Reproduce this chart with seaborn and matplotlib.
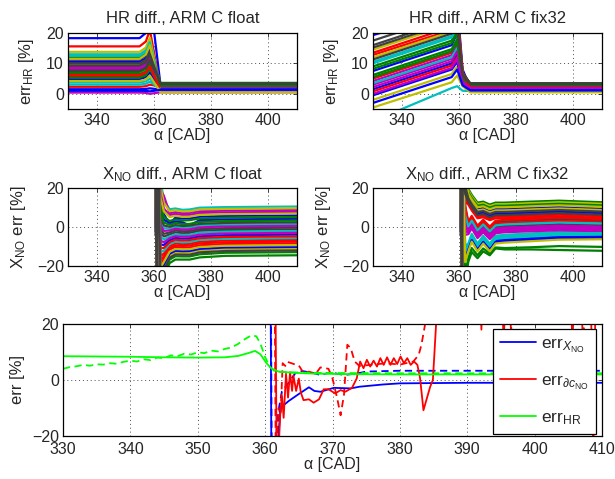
import pandas as pd
import seaborn as sns
from matplotlib import pyplot as plt

sns.set_style('white')
plt.rcParams['font.family'] = ['Liberation Sans', 'DejaVu Sans']
plt.rcParams['mathtext.fontset'] = 'custom'
plt.rcParams['mathtext.rm'] = 'Liberation Sans'
plt.rcParams['mathtext.it'] = 'Liberation Sans:italic'
plt.rcParams['font.size'] = 11.5

matlab_colors = ['#0000ff', '#008000', '#ff0000', '#00bfbf', '#bf00bf', '#bfbf00', '#404040']

# --- HR diff, float: level before TDC, rise, peak near 358.6, level after 362
hr_float_knots = [330, 355, 357.2, 358.6, 362.3, 410]
hr_float_level = [18.3, 12.0, 15.6, 13.0, 9.0, 13.8, 11.2, 10.5, 6.5, 5.8, 12.5, 8.0, 9.8, 10.0, 4.8,
                  7.2, 2.3, 3.0, 8.5, 11.5, 7.6, 1.5, 5.3, 6.2, 3.7, 0.4, 4.2, 9.3, 1.0]
hr_float_rise = [20.0, 13.4, 17.2, 14.4, 10.1, 15.2, 12.5, 11.7, 7.4, 6.6, 13.9, 9.1, 10.9, 11.2, 5.5,
                 8.2, 2.5, 3.3, 9.6, 12.9, 8.6, 1.6, 6.1, 7.0, 4.1, 0.3, 4.7, 10.4, 0.95]
hr_float_peak = [32, 16.5, 21.0, 17.5, 12.5, 18.5, 15.5, 14.5, 9.5, 8.5, 17.0, 11.5, 13.5, 14.0, 7.0,
                 10.5, 3.0, 4.0, 12.0, 16.0, 11.0, 1.8, 8.0, 9.0, 5.0, 0.0, 6.0, 13.0, 0.8]
hr_float_end = [3.0, 3.5, 2.0, 2.8, 2.2, 1.0, 3.3, 1.5, 3.6, 2.5, 1.8, 2.7, 0.8, 3.1, 1.2,
                2.9, 2.4, 1.6, 2.0, 0.6, 3.4, 1.4, 2.6, 1.1, 0.9, 0.5, 0.5, 3.2, 1.3]

# --- HR diff, fix32
hr_fix_knots = [330, 357.5, 359.4, 361.3, 364, 410]
hr_fix_start = [19.3, 9.0, 12.8, 10.5, 3.0, 12.0, 17.5, 7.5, 6.2, 5.0, 10.0, 4.2, 14.5, 16.0, 1.5,
                8.2, 0.8, 3.5, 2.2, -2.0, 15.2, -0.5, 5.5, 13.5, -9.0, 0.0, -4.5, 11.3, -3.0]
hr_fix_pre = [27, 17.5, 21, 19, 11.5, 20.5, 26, 16, 14.7, 13.5, 18.5, 12.7, 23, 24.5, 10,
              16.7, 9.3, 12, 10.7, 6.5, 23.7, 8, 14, 22, 1.9, 8.5, 3.8, 19.8, 5.5]
hr_fix_peak = [30, 22, 25, 23, 14, 24, 28, 20, 18, 17, 22, 16, 26, 27, 13,
               20, 12, 15, 14, 9, 26, 10.5, 17, 25, 2.5, 11.5, 6, 23, 8]
hr_fix_knee = [8, 6, 7, 6.5, 4.5, 6, 7, 5.5, 5, 5, 6, 4.5, 6.5, 7, 4,
               5.5, 3.8, 4.5, 4.2, 3, 6.8, 3.4, 5, 6.5, 1.0, 3.6, 2.5, 6, 2.8]
hr_fix_end = [2.0, 3.5, 2.4, 1.2, 1.8, 0.8, 3.3, 1.5, 3.0, 2.2, 1.0, 2.6, 0.6, 3.1, 1.4,
              2.8, 2.3, 1.7, 2.0, 0.7, 3.4, 1.3, 2.7, 2.1, 0.9, 1.9, 0.5, 3.2, 1.1]

# --- X_NO diff: spike at TDC, then curves settle
spike_knots = [360.5, 361.0, 361.5]
spike_vals = [40, -40, 40]

xno_float_knots = [362.3, 363.5, 365.5, 367.5, 370, 372.5, 376, 385, 410]
xno_float_rows = [
    [9, 3.7, 2.1, 2.9, 2.4, 0.8, 3.5, 3.9, 4.2],
    [-29, -23.6, -16.7, -15.0, -15.1, -15.1, -14.0, -13.2, -12.9],
    [-19, -16.4, -11.7, -10.3, -10.6, -10.5, -9.4, -8.7, -8.4],
    [24, 13.8, 9.1, 9.5, 8.8, 9.0, 9.9, 10.2, 10.5],
    [19, 16.0, 7.1, 7.6, 7.1, 7.2, 8.1, 8.4, 8.7],
    [21, 12.4, 8.1, 8.6, 8.0, 8.1, 9.0, 9.3, 9.6],
    [-1, -3.5, -2.8, -1.8, -2.2, -2.1, -1.1, -0.6, -0.3],
    [13, 6.6, 1.5, 4.8, 4.3, 4.4, 5.3, 5.7, 6.0],
    [-32, -26.2, -18.5, -16.7, -16.7, -16.7, -15.6, -14.8, -14.5],
    [-15, -13.6, -9.8, -8.4, -8.8, -8.6, -7.5, -6.9, -6.6],
    [3, -0.6, -0.9, 0.1, -0.4, -0.3, 0.7, 1.2, 1.5],
    [17, 9.5, 6.1, 6.7, 6.1, 6.2, 7.2, 7.5, 7.8],
    [-25, -20.8, -14.7, -13.2, -13.3, -13.2, -12.1, -11.4, -11.1],
    [5, 0.8, 0.1, 1.0, 0.5, 0.7, 1.6, 2.1, 2.4],
    [-9, -9.2, -6.8, -5.6, -6.0, -5.8, -4.8, -4.2, -3.9],
    [11, 5.2, 3.1, 3.9, 3.3, 3.5, 4.4, 4.8, 5.1],
    [-17, -15.0, -10.8, -9.4, -9.7, -9.5, -8.4, -7.8, -7.5],
    [-13, -12.1, -8.8, -7.5, -7.9, -7.7, -6.6, -6.0, -5.7],
    [1, -2.0, -1.8, -0.9, -1.3, -1.2, -0.2, 0.3, 0.6],
    [15, 8.0, 5.1, 5.7, 5.2, 5.3, 6.2, 6.6, 6.9],
    [-3, -4.9, -3.8, -2.8, -3.2, -3.0, -2.0, -1.5, -1.2],
    [-23, -19.3, -13.7, -12.2, -12.4, -12.3, -11.2, -10.5, -10.2],
    [7, 2.3, 1.1, 2.0, 1.5, 1.6, 2.6, 3.0, 3.3],
    [-11, -10.7, -7.8, -6.5, -6.9, -6.7, -5.7, -5.1, -4.8],
    [-5, -6.4, -4.8, -3.7, -4.1, -4.0, -2.9, -2.4, -2.1],
    [-7, -7.8, -5.8, -4.7, -5.0, -4.9, -3.9, -3.3, -3.0],
    [-21, -17.9, -12.7, -11.3, -11.5, -11.4, -10.3, -9.6, -9.3],
    [-27, -22.2, -15.7, -14.1, -14.2, -14.2, -13.0, -12.3, -12.0],
]

xno_fix_knots = [362.2, 363.3, 364.5, 366.5, 368.5, 370.8, 372.8, 376, 385, 395, 410]
xno_fix_rows = [
    [25, 16.3, 13.3, 9.3, 9.8, 8.3, 9.3, 9.3, 9.8, 10.3, 9.5],
    [30, 19.5, 16.5, 12.5, 13, 11.5, 12.5, 12.5, 13, 13.5, 12.7],
    [15, 12.3, 9.3, 5.3, 5.8, 4.3, 5.3, 5.3, 5.8, 6.3, 5.5],
    [-10, -8.5, -3.5, -8.5, -4.5, -8.5, -4.5, -4.0, -3.3, -2.5, -2.3],
    [-4, -3.7, -0.7, -5.7, -2.7, -6.2, -3.2, -2.7, -2.2, -1.7, -2.2],
    [29, 18.7, 15.7, 11.7, 12.2, 10.7, 11.7, 11.7, 12.2, 12.7, 11.9],
    [10, 1.9, 4.9, -0.1, 2.9, -0.6, 2.4, 2.9, 3.4, 3.9, 3.4],
    [-15, -10.9, -5.9, -10.9, -6.9, -10.9, -6.9, -6.4, -5.7, -4.9, -4.7],
    [28, 17.9, 14.9, 10.9, 11.4, 9.9, 10.9, 10.9, 11.4, 11.9, 11.1],
    [13, 11.5, 8.5, 4.5, 5.0, 3.5, 4.5, 4.5, 5.0, 5.5, 4.7],
    [-12, -9.3, -4.3, -9.3, -5.3, -9.3, -5.3, -4.8, -4.1, -3.3, -3.1],
    [-2, -2.9, 0.1, -4.9, -1.9, -5.4, -2.4, -1.9, -1.4, -0.9, -1.4],
    [23, 15.5, 12.5, 8.5, 9.0, 7.5, 8.5, 8.5, 9.0, 9.5, 8.7],
    [5, -0.5, 2.5, -2.5, 0.5, -3.0, 0.0, 0.5, 1.0, 1.5, 1.0],
    [19, 13.9, 10.9, 6.9, 7.4, 5.9, 6.9, 6.9, 7.4, 7.9, 7.1],
    [-25, -15.8, -10.8, -14.5, -11.0, -13.5, -10.5, -10.8, -10.4, -9.8, -10.2],
    [8, 1.1, 4.1, -0.9, 2.1, -1.4, 1.6, 2.1, 2.6, 3.1, 2.6],
    [-13, -10.1, -5.1, -10.1, -6.1, -10.1, -6.1, -5.6, -4.9, -4.1, -3.9],
    [3, -1.3, 1.7, -3.3, -0.3, -3.8, -0.8, -0.3, 0.2, 0.7, 0.2],
    [27, 17.1, 14.1, 10.1, 10.6, 9.1, 10.1, 10.1, 10.6, 11.1, 10.3],
    [21, 14.7, 11.7, 7.7, 8.2, 6.7, 7.7, 7.7, 8.2, 8.7, 7.9],
    [-17, -11.7, -6.7, -11.7, -7.7, -11.7, -7.7, -7.2, -6.5, -5.7, -5.5],
    [-28, -17.8, -12.8, -16.0, -12.5, -14.5, -11.0, -11.5, -11.5, -11.8, -12.2],
    [11, 2.7, 5.7, 0.7, 3.7, 0.2, 3.2, 3.7, 4.2, 4.7, 4.2],
    [6, 0.3, 3.3, -1.7, 1.3, -2.2, 0.8, 1.3, 1.8, 2.3, 1.8],
    [0, -2.1, 0.9, -4.1, -1.1, -4.6, -1.6, -1.1, -0.6, -0.1, -0.6],
    [-18, -12.5, -7.5, -12.5, -8.5, -12.5, -8.5, -8.0, -7.3, -6.5, -6.3],
    [17, 13.1, 10.1, 6.1, 6.6, 5.1, 6.1, 6.1, 6.6, 7.1, 6.3],
]

# --- bottom panel: single runs
green_solid_x = [330, 335, 340, 345, 350, 354, 356, 357.5, 358.5, 359.3, 360.2, 361, 362, 364, 367, 372, 380, 410]
green_solid_y = [8.5, 8.4, 8.3, 8.1, 8.0, 8.1, 8.6, 9.6, 10.4, 9.2, 6.0, 4.0, 3.0, 2.6, 2.3, 2.1, 2.0, 2.0]

green_dash_x = [330, 331, 332, 333, 334, 335, 336, 337, 338, 339, 340, 341, 342, 343, 344, 345, 346, 347,
                348, 349, 350, 351, 352, 353, 354, 355, 356, 357, 358, 358.7, 359.3, 360, 360.7, 361.5,
                363, 366, 370, 380, 410]
green_dash_y = [4.0, 4.6, 4.9, 5.4, 5.1, 5.6, 5.5, 6.0, 5.8, 6.5, 6.9, 6.6, 7.4, 7.1, 8.0, 7.8, 8.8, 8.5,
                9.4, 9.1, 9.9, 9.6, 10.5, 10.2, 11.1, 11.6, 12.9, 14.6, 16.0, 15.6, 13.0, 8.2, 4.6, 3.0,
                2.8, 2.6, 2.5, 2.4, 2.4]

blue_solid_x = [360.8, 360.95, 361.8, 362.3, 363.5, 365, 366.5, 367.3, 368.2, 370.2, 372.7, 374, 377.5, 380, 390, 410]
blue_solid_y = [40, -40, -25, -9.9, -7.5, -5.0, -2.6, -3.9, -4.2, -2.8, -3.0, -2.4, -1.6, -1.2, -1.0, -1.0]

blue_dash_x = [360.85, 361.0, 361.9, 362.5, 363.5, 364.5, 365.5, 366.8, 368.2, 369.7, 371.7, 373.6, 375, 378, 380, 410]
blue_dash_y = [40, -40, -12, -4, -1, 2.5, 3.2, 2.7, 1.8, 2.7, 1.8, 2.3, 3.0, 3.2, 3.3, 3.3]

red_solid_x = [361.5, 361.75, 362.0, 362.25, 362.5, 362.75, 363.1, 363.4, 363.7, 364.0, 364.2, 364.6, 365.0,
               365.3, 365.7, 366.5, 367.2, 368.0, 368.7, 369.4, 370.4, 371.2, 371.9, 372.9, 373.6, 374.1,
               374.6, 375.1, 375.6, 376.1, 376.6, 377.1, 377.6, 378.1, 378.6, 379.1, 379.6, 380.1, 380.6,
               381.1, 381.6, 382.1, 382.6, 383.0, 383.5, 384.0, 384.5, 384.9, 385.4, 385.9, 391.8, 392.1,
               392.4, 395.0, 395.4, 395.9, 405.3, 405.6, 406.0, 408.3, 408.7, 409.1, 410]
red_solid_y = [40, -40, -25, -12, -5.7, -13.5, 2.2, -6.3, 2.8, -3.9, 1.6, -3.9, 0.5,
               -4.5, -7.2, -6.9, -8.1, -6.9, -3.3, -3.3, -4.8, -3.6, -4.2, -2.8, 0.6, 6.6,
               4.2, 7.2, 4.8, 6.9, 4.8, 7.8, 5.4, 8.1, 5.4, 7.8, 5.7, 8.4, 6.0,
               7.8, 5.4, 6.6, 5.4, 0.6, -10.8, -6.6, -2.4, 0, 21, 40, 40, 18,
               40, 40, 14, 40, 40, 12, 40, 40, -30, 40, 40]

red_dash_x = [361.4, 361.6, 362.0, 362.3, 362.6, 363.0, 363.3, 364.5, 365.0, 365.7, 366.5, 367.5, 368.2,
              369.4, 370.0, 370.7, 371.2, 371.7, 372.2, 372.7, 373.3, 374.0, 376, 378, 380, 382.0, 382.8,
              383.2, 383.7, 384.2, 396.2, 396.5, 396.9, 406.8, 407.2, 407.6, 410]
red_dash_y = [40, -40, -10, -12.6, 6, 5, 6.5, 5.5, 5.2, 2.5, 3, 2.2, 4.5,
              4.0, 0.6, -6.6, -12.6, -5.4, 12.6, 11.4, 6.6, 5, 5.5, 6, 5.5, 6.6, 9.0,
              12.6, 19.3, 40, 40, 16, 40, 40, 10, 40, 40]


def runs_table(knots, rows):
    recs = []
    for i, row in enumerate(rows):
        for x, y in zip(knots, row):
            recs.append(('run%02d' % i, x, y))
    return pd.DataFrame(recs, columns=['run', 'cad', 'err'])


def draw_runs(ax, df, lw):
    runs = list(dict.fromkeys(df['run']))
    pal = [matlab_colors[i % 7] for i in range(len(runs))]
    sns.lineplot(data=df, x='cad', y='err', hue='run', hue_order=runs, palette=pal,
                 estimator=None, sort=False, legend=False, lw=lw, ax=ax)


def style_axes(ax, ylim, yticks, xticks):
    ax.set_xlim(330, 410)
    ax.set_ylim(*ylim)
    ax.set_xticks(xticks)
    ax.set_yticks(yticks)
    ax.grid(True, linestyle=(0, (1, 3)), color='0.3', lw=0.7)
    ax.tick_params(direction='in', top=True, right=True, length=3, width=0.6, labelsize=11.5, pad=3)
    for s in ax.spines.values():
        s.set_color('black')
        s.set_linewidth(0.9)
    ax.set_xlabel('α [CAD]', fontsize=11.5, labelpad=0)


hr_float_rows = [list(r) for r in zip(hr_float_level, hr_float_level, hr_float_rise, hr_float_peak,
                                      hr_float_end, hr_float_end)]
hr_fix_rows = [list(r) for r in zip(hr_fix_start, hr_fix_pre, hr_fix_peak, hr_fix_knee, hr_fix_end, hr_fix_end)]
xno_float_full = [spike_vals + r for r in xno_float_rows]
xno_fix_full = [spike_vals + r for r in xno_fix_rows]

fig = plt.figure(figsize=(6.15, 4.79), dpi=100)
W, H = 615.0, 479.0
ax1 = fig.add_axes([68 / W, 1 - 109 / H, 229 / W, 76 / H])
ax2 = fig.add_axes([373 / W, 1 - 109 / H, 229 / W, 76 / H])
ax3 = fig.add_axes([68 / W, 1 - 266 / H, 229 / W, 78 / H])
ax4 = fig.add_axes([373 / W, 1 - 266 / H, 229 / W, 78 / H])
ax5 = fig.add_axes([63 / W, 1 - 436 / H, 539 / W, 112 / H])

draw_runs(ax1, runs_table(hr_float_knots, hr_float_rows), 1.6)
draw_runs(ax2, runs_table(hr_fix_knots, hr_fix_rows), 1.6)
draw_runs(ax3, runs_table(spike_knots + xno_float_knots, xno_float_full), 1.6)
draw_runs(ax4, runs_table(spike_knots + xno_fix_knots, xno_fix_full), 1.6)

for ax in (ax1, ax2):
    style_axes(ax, (-5, 20), [0, 10, 20], [340, 360, 380, 400])
    ax.set_ylabel(r'err$_{\mathrm{HR}}$ [%]', fontsize=12, labelpad=7)
for ax in (ax3, ax4):
    style_axes(ax, (-20, 20), [-20, 0, 20], [340, 360, 380, 400])
    ax.set_ylabel(r'X$_{\mathrm{NO}}$ err [%]', fontsize=12, labelpad=6)

ax1.set_title('HR diff., ARM C float', fontsize=12, pad=7)
ax2.set_title('HR diff., ARM C fix32', fontsize=12, pad=7)
ax3.set_title(r'X$_{\mathrm{NO}}$ diff., ARM C float', fontsize=12, pad=6)
ax4.set_title(r'X$_{\mathrm{NO}}$ diff., ARM C fix32', fontsize=12, pad=6)

dash = (0, (4, 2.5))
sns.lineplot(x=blue_dash_x, y=blue_dash_y, color='#0000ff', lw=1.3, linestyle=dash, sort=False, ax=ax5)
sns.lineplot(x=red_dash_x, y=red_dash_y, color='#ff0000', lw=1.3, linestyle=dash, sort=False, ax=ax5)
sns.lineplot(x=green_dash_x, y=green_dash_y, color='#00ff00', lw=1.3, linestyle=dash, sort=False, ax=ax5)
sns.lineplot(x=blue_solid_x, y=blue_solid_y, color='#0000ff', lw=1.3, sort=False, ax=ax5,
             label=r'err$_{X_{\mathrm{NO}}}$')
sns.lineplot(x=red_solid_x, y=red_solid_y, color='#ff0000', lw=1.3, sort=False, ax=ax5,
             label=r'err$_{\partial c_{\mathrm{NO}}}$')
sns.lineplot(x=green_solid_x, y=green_solid_y, color='#00ff00', lw=1.3, sort=False, ax=ax5,
             label=r'err$_{\mathrm{HR}}$')

style_axes(ax5, (-20, 20), [-20, 0, 20], list(range(330, 411, 10)))
ax5.tick_params(axis='x', pad=4)
ax5.set_ylabel('err [%]', fontsize=12, labelpad=5)
leg = ax5.legend(loc='upper right', bbox_to_anchor=(0.989, 0.955), borderaxespad=0, fontsize=12.5,
                 labelspacing=1.05, handlelength=2.1, handletextpad=0.3, borderpad=0.4,
                 fancybox=False, framealpha=1, edgecolor='black')
leg.get_frame().set_linewidth(0.9)

fig.savefig('out.png', dpi=100)
